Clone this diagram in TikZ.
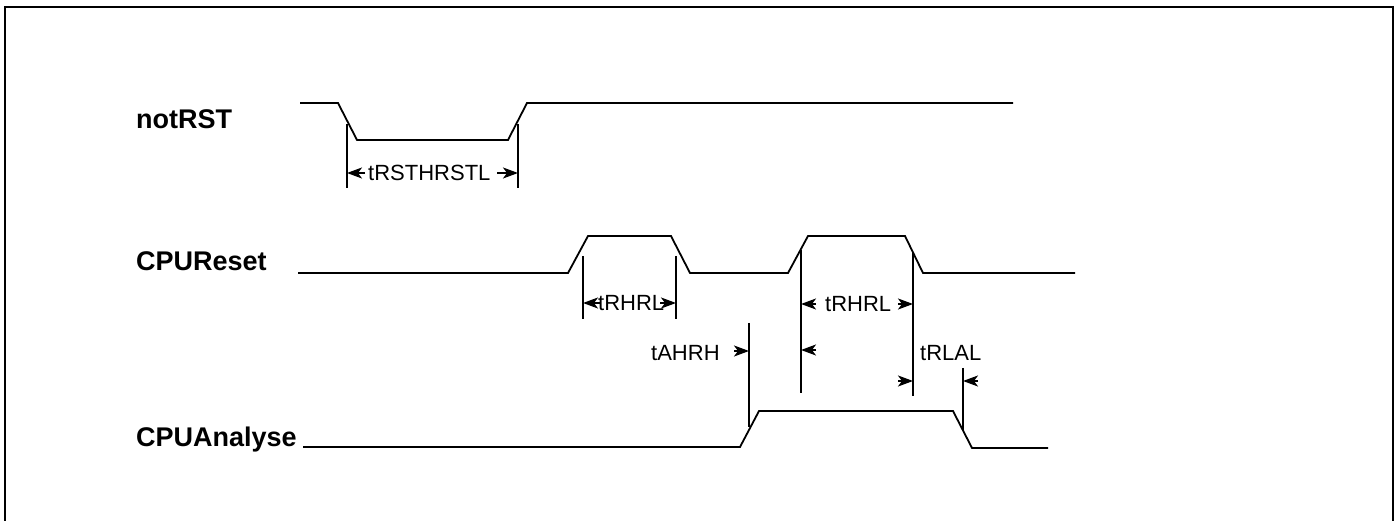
\documentclass[tikz,border=0pt]{standalone}
\usepackage{fontspec}
\setmainfont{Liberation Sans}
\usetikzlibrary{arrows.meta}
\begin{document}
\begin{tikzpicture}[x=1pt,y=-1pt,
  wave/.style={line width=1.8pt,line join=miter},
  marker/.style={line width=1.5pt},
  dim/.style={line width=1.6pt,-{Stealth[length=15pt,width=11pt,inset=4pt]}},
  siglabel/.style={font=\bfseries\fontsize{27}{30}\selectfont,anchor=base west,inner sep=0pt},
  tlabel/.style={font=\fontsize{22}{25}\selectfont,anchor=base west,inner sep=0pt}]
\useasboundingbox (0,0) rectangle (1398,521);
\draw[line width=2pt] (5,530) -- (5,7) -- (1393,7) -- (1393,530);
% signal labels
\node[siglabel] (lrst) at (136,129) {notRST};
\node[siglabel] (lres) at (136,271) {CPUReset};
\node[siglabel] (lana) at (136,446) {CPUAnalyse};
% waveforms
\draw[wave] (300,103) -- (338,103) -- (357,140) -- (508,140) -- (527,103) -- (1013,103);
\draw[wave] (298,273) -- (568,273) -- (588,236) -- (671,236) -- (690,273) -- (788,273) -- (808,236) -- (905,236) -- (923,273) -- (1075,273);
\draw[wave] (303,447) -- (740,447) -- (759,411) -- (953,411) -- (972,448) -- (1048,448);
% markers
\coordinate (m1t) at (347,124); \coordinate (m1b) at (347,188);
\coordinate (m2t) at (518,124); \coordinate (m2b) at (518,188);
\coordinate (m3t) at (583,256); \coordinate (m3b) at (583,319);
\coordinate (m4t) at (676,256); \coordinate (m4b) at (676,319);
\coordinate (m5t) at (801,250); \coordinate (m5b) at (801,393);
\coordinate (m6t) at (913,252); \coordinate (m6b) at (913,396);
\coordinate (m7t) at (749,323); \coordinate (m7b) at (749,427);
\coordinate (m8t) at (963,368); \coordinate (m8b) at (963,430);
\foreach \m in {1,...,8} \draw[marker] (m\m t) -- (m\m b);
% tRSTHRSTL
\node[tlabel] (t1) at (368,181) {tRSTHRSTL};
\coordinate (a1) at (365,173); \coordinate (a1e) at (347,173);
\coordinate (a2) at (497,173); \coordinate (a2e) at (518,173);
\draw[dim] (a1) -- (a1e);
\draw[dim] (a2) -- (a2e);
% tRHRL (first)
\node[tlabel] (t2) at (598,311) {tRHRL};
\coordinate (a3) at (600,303); \coordinate (a3e) at (583,303);
\coordinate (a4) at (660,303); \coordinate (a4e) at (676,303);
\draw[dim] (a3) -- (a3e);
\draw[dim] (a4) -- (a4e);
% tRHRL (second)
\node[tlabel] (t3) at (825,312) {tRHRL};
\coordinate (a5) at (816,304); \coordinate (a5e) at (801,304);
\coordinate (a6) at (898,304); \coordinate (a6e) at (913,304);
\draw[dim] (a5) -- (a5e);
\draw[dim] (a6) -- (a6e);
% tAHRH
\node[tlabel] (t4) at (651,361) {tAHRH};
\coordinate (a7) at (734,351); \coordinate (a7e) at (749,351);
\coordinate (a8) at (816,350); \coordinate (a8e) at (801,350);
\draw[dim] (a7) -- (a7e);
\draw[dim] (a8) -- (a8e);
% tRLAL
\node[tlabel] (t5) at (920,361) {tRLAL};
\coordinate (a9) at (898,381); \coordinate (a9e) at (913,381);
\coordinate (a10) at (978,381); \coordinate (a10e) at (963,381);
\draw[dim] (a9) -- (a9e);
\draw[dim] (a10) -- (a10e);
\end{tikzpicture}
\end{document}
